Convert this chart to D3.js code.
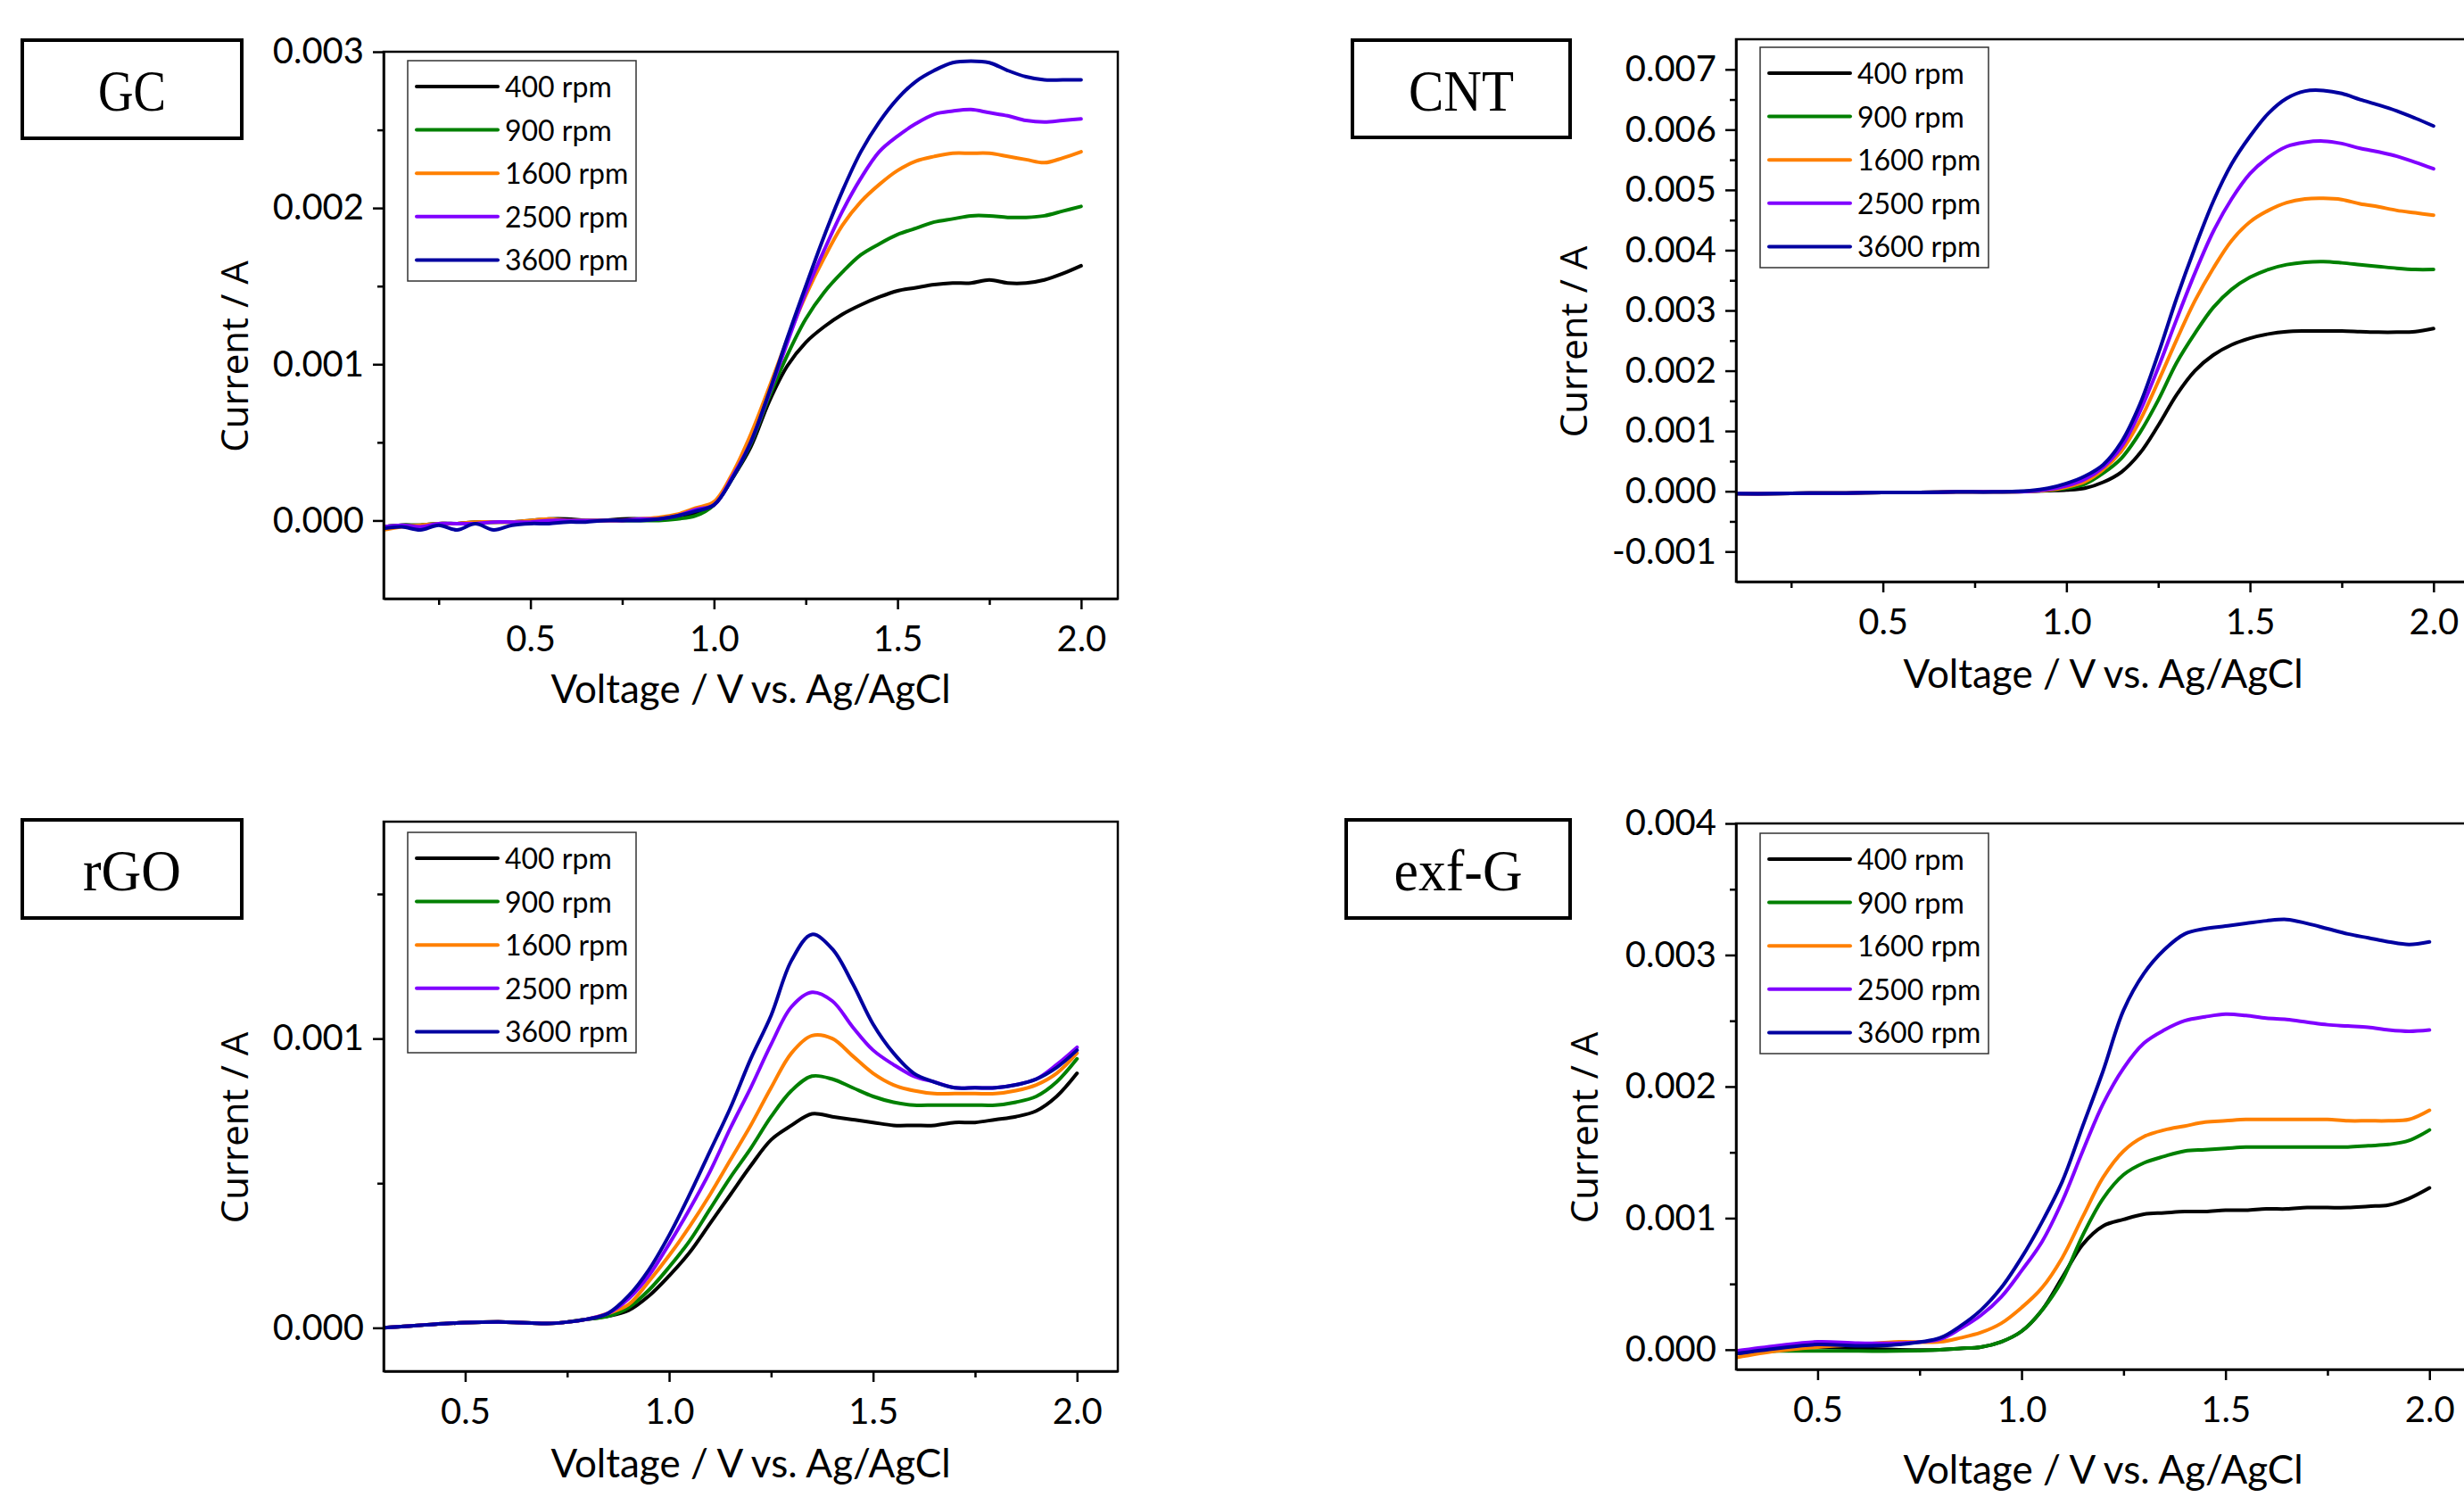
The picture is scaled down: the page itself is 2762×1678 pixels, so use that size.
<!DOCTYPE html>
<html>
<head>
<meta charset="utf-8">
<script src="https://cdn.jsdelivr.net/npm/d3@7"></script>
<style>
  html, body { margin: 0; padding: 0; background: #ffffff; }
  svg { display: block; }
</style>
</head>
<body>
<svg id="chart" width="2762" height="1678"></svg>
<script>
// ---------------- DATA ----------------
const rpmLabels = ["400 rpm", "900 rpm", "1600 rpm", "2500 rpm", "3600 rpm"];
const seriesColors = ["#000000", "#008000", "#FF8000", "#8000FF", "#0000A0"];

const xTicks_GC = [0.5, 1.0, 1.5, 2.0];
const xTicks_CNT = [0.5, 1.0, 1.5, 2.0];
const xTicks_rGO = [0.5, 1.0, 1.5, 2.0];
const xTicks_exfG = [0.5, 1.0, 1.5, 2.0];
const yTicks_GC = [0.000, 0.001, 0.002, 0.003];
const yTicks_CNT = [-0.001, 0.000, 0.001, 0.002, 0.003, 0.004, 0.005, 0.006, 0.007];
const yTicks_rGO = [0.000, 0.001];
const yTicks_exfG = [0.000, 0.001, 0.002, 0.003, 0.004];

// GC
const GC_voltage = [0.1,0.15,0.2,0.25,0.3,0.35,0.4,0.45,0.5,0.55,0.6,0.65,0.7,0.75,0.8,0.85,0.9,0.95,
  1.0,1.05,1.1,1.15,1.2,1.25,1.3,1.35,1.4,1.45,1.5,1.55,1.6,1.65,1.7,1.75,1.8,1.85,1.9,1.95,2.0];
const GC_400 = [-0.00004,-0.00003,-0.00003,-0.00002,-0.00002,-0.00001,-0.00001,-0.00001,0,0.00001,0.00001,0,0,0.00001,0.00001,0.00001,0.00002,0.00005,
  0.0001,0.00027,0.00047,0.00076,0.00099,0.00114,0.00124,0.00132,0.00138,0.00143,0.00147,0.00149,0.00151,0.00152,0.00152,0.00154,0.00152,0.00152,0.00154,0.00158,0.00163];
const GC_900 = [-0.00004,-0.00003,-0.00003,-0.00002,-0.00002,-0.00002,-0.00001,-0.00001,-0.00001,0,0,0,0,0,0,0,0.00001,0.00003,
  0.0001,0.00027,0.00049,0.00079,0.00106,0.00129,0.00146,0.00159,0.0017,0.00177,0.00183,0.00187,0.00191,0.00193,0.00195,0.00195,0.00194,0.00194,0.00195,0.00198,0.00201];
const GC_1600 = [-0.00006,-0.00004,-0.00003,-0.00002,-0.00002,-0.00001,-0.00001,-0.00001,0,0.00001,0,0,0,0,0.00001,0.00002,0.00004,0.00008,
  0.00012,0.0003,0.00055,0.00085,0.00116,0.00144,0.00168,0.00189,0.00204,0.00215,0.00224,0.0023,0.00233,0.00235,0.00235,0.00235,0.00233,0.00231,0.00229,0.00232,0.00236];
const GC_2500 = [-0.00004,-0.00003,-0.00004,-0.00002,-0.00002,-0.00002,-0.00001,-0.00001,-0.00001,0,0,0,0,0,0.00001,0.00001,0.00003,0.00007,
  0.0001,0.00028,0.0005,0.00081,0.00114,0.00146,0.00173,0.00198,0.00219,0.00236,0.00246,0.00254,0.0026,0.00262,0.00263,0.00261,0.00259,0.00256,0.00255,0.00256,0.00257];
const GC_3600 = [-0.00005,-0.00004,-0.00006,-0.00003,-0.00006,-0.00002,-0.00006,-0.00003,-0.00002,-0.00002,-0.00001,-0.00001,0,0,0,0.00001,0.00003,0.00006,
  0.0001,0.00027,0.0005,0.00082,0.00117,0.0015,0.00182,0.00211,0.00236,0.00255,0.0027,0.00281,0.00288,0.00293,0.00294,0.00293,0.00288,0.00284,0.00282,0.00282,0.00282];

// CNT
const CNT_voltage = [0.1,0.2,0.3,0.4,0.5,0.6,0.7,0.8,0.9,0.95,
  1.0,1.05,1.1,1.15,1.2,1.25,1.3,1.35,1.4,1.45,1.5,1.55,1.6,1.65,1.7,1.75,1.8,1.85,1.9,1.95,2.0];
const CNT_400 = [-0.00004,-0.00004,-0.00003,-0.00003,-0.00002,-0.00002,-0.00001,-0.00001,0,0.00001,
  0.00002,0.00005,0.00015,0.00032,0.00063,0.00109,0.0016,0.002,0.00226,0.00243,0.00254,0.00261,0.00265,0.00266,0.00266,0.00266,0.00265,0.00264,0.00264,0.00265,0.0027];
const CNT_900 = [-0.00004,-0.00004,-0.00003,-0.00003,-0.00002,-0.00002,-0.00001,-0.00001,0,0.00002,
  0.00005,0.00012,0.0003,0.00055,0.00097,0.00151,0.00213,0.00262,0.00305,0.00335,0.00355,0.00368,0.00376,0.0038,0.00381,0.00379,0.00376,0.00373,0.0037,0.00368,0.00368];
const CNT_1600 = [-0.00004,-0.00004,-0.00003,-0.00003,-0.00002,-0.00002,-0.00001,-0.00001,0,0.00002,
  0.00007,0.00016,0.00036,0.00067,0.00117,0.00182,0.00251,0.00316,0.0037,0.00416,0.00447,0.00466,0.00479,0.00485,0.00486,0.00484,0.00477,0.00472,0.00466,0.00462,0.00458];
const CNT_2500 = [-0.00004,-0.00004,-0.00003,-0.00003,-0.00002,-0.00002,-0.00001,-0.00001,0,0.00003,
  0.00009,0.0002,0.0004,0.00074,0.00132,0.00205,0.00285,0.00362,0.00431,0.00485,0.00527,0.00554,0.00572,0.00579,0.00581,0.00577,0.00569,0.00563,0.00556,0.00546,0.00535];
const CNT_3600 = [-0.00004,-0.00004,-0.00003,-0.00003,-0.00002,-0.00002,-0.00001,-0.00001,0.00001,0.00005,
  0.00013,0.00025,0.00044,0.00082,0.00144,0.00228,0.0032,0.00404,0.00481,0.00543,0.00589,0.00627,0.00652,0.00664,0.00665,0.0066,0.0065,0.00641,0.00631,0.00619,0.00606];

// rGO
const rGO_voltage = [0.3,0.4,0.5,0.6,0.7,0.75,0.8,0.85,0.9,0.95,
  1.0,1.05,1.1,1.15,1.2,1.25,1.3,1.35,1.4,1.45,1.5,1.55,1.6,1.65,1.7,1.75,1.8,1.85,1.9,1.95,2.0];
const rGO_400 = [0,0.00001,0.000018,0.00002,0.000015,0.00002,0.00003,0.00004,0.00006,0.00011,
  0.00018,0.00026,0.00036,0.00046,0.00056,0.00065,0.0007,0.00074,0.00073,0.00072,0.00071,0.0007,0.0007,0.0007,0.00071,0.00071,0.00072,0.00073,0.00075,0.0008,0.00088];
const rGO_900 = [0,0.00001,0.000018,0.00002,0.000015,0.00002,0.00003,0.00004,0.00007,0.00013,
  0.00021,0.0003,0.00041,0.00052,0.00062,0.00073,0.00082,0.00087,0.00086,0.00083,0.0008,0.00078,0.00077,0.00077,0.00077,0.00077,0.00077,0.00078,0.0008,0.00085,0.00093];
const rGO_1600 = [0,0.00001,0.000018,0.00002,0.000015,0.00002,0.00003,0.00005,0.00008,0.00016,
  0.00025,0.00035,0.00046,0.00058,0.0007,0.00083,0.00095,0.00101,0.001,0.00094,0.00088,0.00084,0.00082,0.00081,0.00081,0.00081,0.00081,0.00082,0.00084,0.00088,0.00095];
const rGO_2500 = [0,0.00001,0.000018,0.00002,0.000015,0.00002,0.00003,0.00005,0.0001,0.00018,
  0.00029,0.00041,0.00054,0.00069,0.00083,0.00098,0.00111,0.00116,0.00113,0.00104,0.00096,0.00091,0.00087,0.00085,0.00083,0.00083,0.00083,0.00084,0.00086,0.00091,0.00097];
const rGO_3600 = [0,0.00001,0.000018,0.00002,0.000015,0.00002,0.00003,0.00005,0.00011,0.0002,
  0.00032,0.00046,0.00061,0.00076,0.00093,0.00108,0.00127,0.00136,0.00131,0.00119,0.00105,0.00095,0.00088,0.00085,0.00083,0.00083,0.00083,0.00084,0.00086,0.0009,0.00096];

// exf-G
const exfG_voltage = [0.3,0.4,0.5,0.6,0.7,0.8,0.85,0.9,0.95,
  1.0,1.05,1.1,1.15,1.2,1.25,1.3,1.35,1.4,1.45,1.5,1.55,1.6,1.65,1.7,1.75,1.8,1.85,1.9,1.95,2.0];
const exfG_400 = [-0.00003,0,0.00002,0.00001,0,0,0.00001,0.00002,0.00006,
  0.00014,0.0003,0.00055,0.0008,0.00094,0.00099,0.00103,0.00104,0.00105,0.00105,0.00106,0.00106,0.00107,0.00107,0.00108,0.00108,0.00108,0.00109,0.0011,0.00115,0.00123];
const exfG_900 = [-0.00003,-0.00001,-0.00001,-0.00001,-0.00001,0,0.00001,0.00002,0.00006,
  0.00014,0.0003,0.00053,0.00087,0.00115,0.00133,0.00142,0.00147,0.00151,0.00152,0.00153,0.00154,0.00154,0.00154,0.00154,0.00154,0.00154,0.00155,0.00156,0.00159,0.00167];
const exfG_1600 = [-0.00006,-0.00001,0.00002,0.00004,0.00006,0.00006,0.00009,0.00013,0.0002,
  0.00032,0.00047,0.0007,0.00101,0.00131,0.00151,0.00162,0.00167,0.0017,0.00173,0.00174,0.00175,0.00175,0.00175,0.00175,0.00175,0.00174,0.00174,0.00174,0.00175,0.00182];
const exfG_2500 = [-0.00001,0.00003,0.00006,0.00005,0.00005,0.00008,0.00016,0.00026,0.0004,
  0.0006,0.00082,0.00113,0.00151,0.00187,0.00214,0.00233,0.00243,0.0025,0.00253,0.00255,0.00254,0.00252,0.00251,0.00249,0.00247,0.00246,0.00245,0.00243,0.00242,0.00243];
const exfG_3600 = [-0.00003,0.00001,0.00004,0.00003,0.00004,0.00009,0.00018,0.0003,0.00047,
  0.0007,0.00097,0.00128,0.0017,0.00212,0.00258,0.00286,0.00304,0.00316,0.0032,0.00322,0.00324,0.00326,0.00327,0.00324,0.0032,0.00316,0.00313,0.0031,0.00308,0.0031];

// ---------------- PANELS (data + layout) ----------------
const panels = [
  { name: "GC", voltage: GC_voltage, series: [GC_400, GC_900, GC_1600, GC_2500, GC_3600],
    xDomain: [0.1, 2.1], yDomain: [-0.0005, 0.003], xTicks: xTicks_GC, yTicks: yTicks_GC,
    left: 430, top: 58, width: 823, height: 613,
    box: { x: 25, y: 45, w: 246, h: 110, textW: 76 },
    legend: { dx: 27, dy: 10 }, yTitleOff: 152, xTitleOff: 117 },
  { name: "CNT", voltage: CNT_voltage, series: [CNT_400, CNT_900, CNT_1600, CNT_2500, CNT_3600],
    xDomain: [0.1, 2.1], yDomain: [-0.0015, 0.0075], xTicks: xTicks_CNT, yTicks: yTicks_CNT,
    left: 1946, top: 44, width: 823, height: 608,
    box: { x: 1516, y: 45, w: 244, h: 109, textW: 118 },
    legend: { dx: 27, dy: 9 }, yTitleOff: 167, xTitleOff: 119 },
  { name: "rGO", voltage: rGO_voltage, series: [rGO_400, rGO_900, rGO_1600, rGO_2500, rGO_3600],
    xDomain: [0.3, 2.1], yDomain: [-0.00015, 0.00175], xTicks: xTicks_rGO, yTicks: yTicks_rGO,
    left: 430, top: 921, width: 823, height: 616,
    box: { x: 25, y: 919, w: 246, h: 110, textW: 110 },
    legend: { dx: 27, dy: 12 }, yTitleOff: 152, xTitleOff: 119 },
  { name: "exf-G", voltage: exfG_voltage, series: [exfG_400, exfG_900, exfG_1600, exfG_2500, exfG_3600],
    xDomain: [0.3, 2.1], yDomain: [-0.00015, 0.004], xTicks: xTicks_exfG, yTicks: yTicks_exfG,
    left: 1946, top: 923, width: 823, height: 612,
    box: { x: 1509, y: 919, w: 251, h: 110, textW: 144 },
    legend: { dx: 27, dy: 11 }, yTitleOff: 155, xTitleOff: 128 }
];

// ---------------- DRAW ----------------
const svg = d3.select("#chart");
svg.append("rect").attr("width", 2762).attr("height", 1678).attr("fill", "#ffffff");

const AX = 2.5;
const tickFont = "Lato, 'Open Sans', sans-serif";
const fmtY = v => d3.format(".3f")(v).replace("\u2212", "-");
const fmtX = v => d3.format(".1f")(v);

panels.forEach((p, pi) => {
  const x = d3.scaleLinear().domain(p.xDomain).range([0, p.width]);
  const y = d3.scaleLinear().domain(p.yDomain).range([p.height, 0]);
  const g = svg.append("g").attr("transform", `translate(${p.left},${p.top})`);

  // clip
  const clipId = "clip" + pi;
  g.append("clipPath").attr("id", clipId)
    .append("rect").attr("x", 0).attr("y", 0).attr("width", p.width).attr("height", p.height);

  // lines
  const line = d3.line().x(d => x(d[0])).y(d => y(d[1])).curve(d3.curveCatmullRom.alpha(0.5));
  const lg = g.append("g").attr("clip-path", `url(#${clipId})`);
  p.series.forEach((s, si) => {
    const pts = p.voltage.map((v, i) => [v, s[i]]);
    lg.append("path").datum(pts)
      .attr("d", line)
      .attr("fill", "none")
      .attr("stroke", seriesColors[si])
      .attr("stroke-width", 4)
      .attr("stroke-linejoin", "round")
      .attr("stroke-linecap", "round");
  });

  // frame (top & right)
  g.append("rect").attr("x", 0).attr("y", 0).attr("width", p.width).attr("height", p.height)
    .attr("fill", "none").attr("stroke", "#000").attr("stroke-width", AX);

  // minor ticks
  const xStepMinor = 0.25, yStepMinor = 0.0005;
  const xMinor = d3.range(Math.ceil(p.xDomain[0] / xStepMinor - 1e-9) * xStepMinor, p.xDomain[1] + 1e-9, xStepMinor)
    .filter(v => !p.xTicks.some(t => Math.abs(t - v) < 1e-9));
  const yMinor = d3.range(Math.ceil(p.yDomain[0] / yStepMinor - 1e-9) * yStepMinor, p.yDomain[1] + 1e-12, yStepMinor)
    .filter(v => !p.yTicks.some(t => Math.abs(t - v) < 1e-9) && v > p.yDomain[0] + 1e-9 && v < p.yDomain[1] - 1e-9);

  g.append("g").attr("transform", `translate(0,${p.height})`)
    .call(d3.axisBottom(x).tickValues(xMinor).tickSize(7).tickSizeOuter(0).tickFormat(""))
    .call(a => a.select(".domain").remove())
    .call(a => a.selectAll("line").attr("stroke-width", AX));
  g.append("g")
    .call(d3.axisLeft(y).tickValues(yMinor).tickSize(7).tickSizeOuter(0).tickFormat(""))
    .call(a => a.select(".domain").remove())
    .call(a => a.selectAll("line").attr("stroke-width", AX));

  // major axes
  const xa = g.append("g").attr("transform", `translate(0,${p.height})`)
    .call(d3.axisBottom(x).tickValues(p.xTicks).tickSize(12).tickSizeOuter(0).tickPadding(19).tickFormat(fmtX));
  const ya = g.append("g")
    .call(d3.axisLeft(y).tickValues(p.yTicks).tickSize(12).tickSizeOuter(0).tickPadding(10).tickFormat(fmtY));
  [xa, ya].forEach(a => {
    a.select(".domain").attr("stroke-width", AX);
    a.selectAll(".tick line").attr("stroke-width", AX);
    a.selectAll(".tick text").attr("font-family", tickFont).attr("font-size", 40).attr("fill", "#000");
  });

  // axis titles
  g.append("text")
    .attr("x", p.width / 2).attr("y", p.height + p.xTitleOff)
    .attr("text-anchor", "middle")
    .attr("font-family", tickFont).attr("font-size", 44).attr("fill", "#000")
    .text("Voltage / V vs. Ag/AgCl");
  g.append("text")
    .attr("transform", `translate(${-p.yTitleOff},${p.height / 2 + 35}) rotate(-90)`)
    .attr("text-anchor", "middle")
    .attr("font-family", "'Open Sans', sans-serif").attr("font-size", 42).attr("fill", "#000")
    .text("Current / A");

  // legend
  const L = g.append("g").attr("transform", `translate(${p.legend.dx},${p.legend.dy})`);
  L.append("rect").attr("x", 0).attr("y", 0).attr("width", 256).attr("height", 247)
    .attr("fill", "#fff").attr("stroke", "#333").attr("stroke-width", 1.5);
  rpmLabels.forEach((lab, i) => {
    const ly = 29 + i * 48.6;
    L.append("line").attr("x1", 10).attr("x2", 101).attr("y1", ly).attr("y2", ly)
      .attr("stroke", seriesColors[i]).attr("stroke-width", 4).attr("stroke-linecap", "round");
    L.append("text").attr("x", 109).attr("y", ly + 12)
      .attr("font-family", tickFont).attr("font-size", 32).attr("fill", "#000")
      .text(lab);
  });

  // sample label box
  svg.append("rect").attr("x", p.box.x).attr("y", p.box.y).attr("width", p.box.w).attr("height", p.box.h)
    .attr("fill", "none").attr("stroke", "#000").attr("stroke-width", 4);
  svg.append("text")
    .attr("x", p.box.x + p.box.w / 2).attr("y", p.box.y + 79)
    .attr("text-anchor", "middle")
    .attr("font-family", "'Liberation Serif', 'DejaVu Serif', serif").attr("font-size", 66)
    .attr("textLength", p.box.textW).attr("lengthAdjust", "spacingAndGlyphs")
    .attr("fill", "#000")
    .text(p.name);
});
</script>
</body>
</html>
